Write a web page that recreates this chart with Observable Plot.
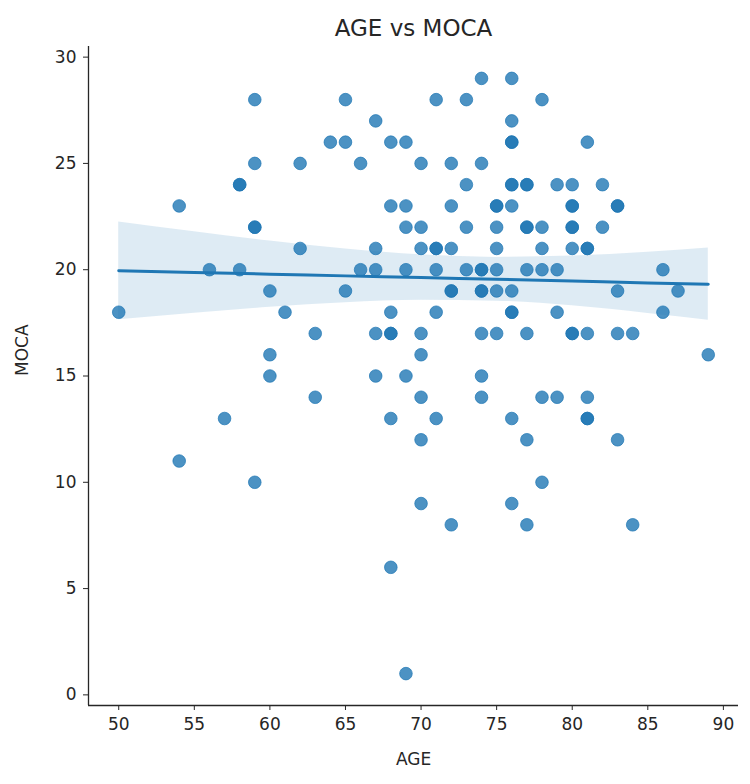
<!DOCTYPE html>
<html>
<head>
<meta charset="utf-8">
<script src="https://cdn.jsdelivr.net/npm/d3@7"></script>
<script src="https://cdn.jsdelivr.net/npm/@observablehq/plot@0.6"></script>
<style>
  html, body { margin: 0; padding: 0; background: #fff; }
  #chart { width: 750px; height: 784px; }
  svg { font-family: "DejaVu Sans", sans-serif; }
</style>
</head>
<body>
<div id="chart"></div>
<script>
// AGE → MOCA scores (integer grid; duplicates where dots look darker)
const ages = [
  50, 54, 54, 56, 57, 58, 58, 58, 59, 59, 59, 59, 59, 60, 60, 60, 61, 62, 62, 63, 63, 64,
  65, 65, 65, 66, 66, 67, 67, 67, 67, 67, 68, 68, 68, 68, 68, 68, 68,
  69, 69, 69, 69, 69, 69, 70, 70, 70, 70, 70, 70, 70, 70,
  71, 71, 71, 71, 71, 71, 72, 72, 72, 72, 72, 72, 73, 73, 73, 73,
  74, 74, 74, 74, 74, 74, 74, 74, 74, 75, 75, 75, 75, 75, 75, 75,
  76, 76, 76, 76, 76, 76, 76, 76, 76, 76, 76, 76,
  77, 77, 77, 77, 77, 77, 77, 77, 78, 78, 78, 78, 78, 78, 79, 79, 79, 79,
  80, 80, 80, 80, 80, 80, 80, 80, 81, 81, 81, 81, 81, 81, 81, 82, 82,
  83, 83, 83, 83, 83, 84, 84, 86, 86, 87, 89
];
const moca = [
  18, 23, 11, 20, 13, 24, 24, 20, 28, 25, 22, 22, 10, 19, 16, 15, 18, 25, 21, 17, 14, 26,
  28, 26, 19, 25, 20, 27, 21, 20, 17, 15, 26, 23, 18, 17, 17, 13, 6,
  26, 23, 22, 20, 15, 1, 25, 22, 21, 17, 16, 14, 12, 9,
  28, 21, 21, 20, 18, 13, 25, 23, 21, 19, 19, 8, 28, 24, 22, 20,
  29, 25, 20, 20, 19, 19, 17, 15, 14, 23, 23, 22, 21, 20, 19, 17,
  29, 27, 26, 26, 24, 24, 23, 19, 18, 18, 13, 9,
  24, 24, 22, 22, 20, 17, 12, 8, 28, 22, 21, 20, 14, 10, 24, 20, 18, 14,
  24, 23, 23, 22, 22, 21, 17, 17, 26, 21, 21, 17, 14, 13, 13, 24, 22,
  23, 23, 19, 17, 12, 17, 8, 20, 18, 19, 16
];

// Regression line and 95% band at these ages
const fitAges = [50, 55, 60, 65, 70, 75, 80, 85, 89];
const fitMoca = [19.95, 19.87, 19.79, 19.71, 19.63, 19.55, 19.47, 19.38, 19.32];
const bandLow = [17.65, 17.95, 18.23, 18.45, 18.56, 18.52, 18.30, 17.94, 17.62];
const bandHigh = [22.25, 21.79, 21.35, 20.98, 20.70, 20.58, 20.64, 20.82, 21.02];

const xTicks = [50, 55, 60, 65, 70, 75, 80, 85, 90];
const yTicks = [0, 5, 10, 15, 20, 25, 30];

const points = ages.map((a, i) => ({age: a, moca: moca[i]}));
const fit = fitAges.map((a, i) => ({age: a, moca: fitMoca[i], lo: bandLow[i], hi: bandHigh[i]}));

const blue = "#1f77b4";
const ink = "#262626";

const chart = Plot.plot({
  width: 750,
  height: 784,
  marginTop: 46,
  marginBottom: 79,
  marginLeft: 88,
  marginRight: 12,
  style: {fontFamily: "DejaVu Sans, sans-serif", background: "#fff", color: ink},
  x: {domain: [48, 91]},
  y: {domain: [-0.5, 30.5]},
  marks: [
    Plot.axisX({ticks: xTicks, tickSize: 5, tickPadding: 7, fontSize: 17, label: null, stroke: ink, fill: ink}),
    Plot.axisY({ticks: yTicks, tickSize: 5, tickPadding: 7, fontSize: 17, label: null, stroke: ink, fill: ink}),
    Plot.ruleX([48], {stroke: ink, strokeWidth: 1.3}),
    Plot.ruleY([-0.5], {stroke: ink, strokeWidth: 1.3}),
    Plot.dot(points, {x: "age", y: "moca", r: 6.3, fill: blue, fillOpacity: 0.8, stroke: blue, strokeOpacity: 0.8, strokeWidth: 0.9}),
    Plot.areaY(fit, {x: "age", y1: "lo", y2: "hi", fill: blue, fillOpacity: 0.15, curve: "monotone-x"}),
    Plot.line(fit, {x: "age", y: "moca", stroke: blue, strokeWidth: 3, curve: "monotone-x"}),
    Plot.text(["AGE vs MOCA"], {frameAnchor: "top", dy: -18, fontSize: 23, fill: ink, lineAnchor: "middle"}),
    Plot.text(["AGE"], {frameAnchor: "bottom", dy: 54, fontSize: 17, fill: ink, lineAnchor: "middle"}),
    Plot.text(["MOCA"], {frameAnchor: "left", dx: -66, rotate: -90, fontSize: 17, fill: ink, lineAnchor: "middle"})
  ]
});
document.getElementById("chart").appendChild(chart);
</script>
</body>
</html>
